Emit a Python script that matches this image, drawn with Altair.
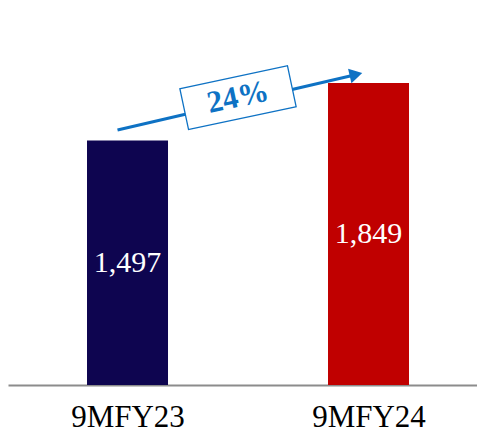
import altair as alt
import pandas as pd

categories = ["9MFY23", "9MFY24"]
values = [1497, 1849]
bar_colors = ["#0e0550", "#c00000"]
growth_label = "24%"

df = pd.DataFrame({
    "idx": list(range(len(categories))),
    "cat": categories,
    "value": values,
    "color": bar_colors,
})
df["mid"] = df["value"] / 2

arrow_df = pd.DataFrame({
    "x": [0], "y": [values[0]], "x2": [1], "y2": [values[1]],
    "xm": [0.5], "ym": [(values[0] + values[1]) / 2], "label": [growth_label],
})

FONT = "Liberation Serif"
BLUE = "#0e72c4"

xscale = alt.Scale(domain=[-0.4959, 1.4502], nice=False, zero=False, padding=0)
yscale = alt.Scale(domain=[0, 2308], nice=False, padding=0)

label_expr = " : ".join(
    [f"datum.value == {i} ? '{c}'" for i, c in enumerate(categories[:-1])]
) + f" : '{categories[-1]}'"

bars = alt.Chart(df).mark_bar(size=81).encode(
    x=alt.X("idx:Q", scale=xscale,
            axis=alt.Axis(values=list(range(len(categories))), labelExpr=label_expr,
                          title=None, grid=False, ticks=False, domainColor="#8c8c8c",
                          domainWidth=2, labelFont=FONT, labelFontSize=31,
                          labelColor="#000000", labelPadding=41,
                          labelBaseline="alphabetic")),
    y=alt.Y("value:Q", scale=yscale, axis=None),
    color=alt.Color("color:N", scale=None),
)

labels = alt.Chart(df).mark_text(font=FONT, fontSize=30, color="white",
                                 baseline="middle", align="center").encode(
    x=alt.X("idx:Q", scale=xscale),
    y=alt.Y("mid:Q", scale=yscale),
    text=alt.Text("value:Q", format=",.0f"),
)

arrow = alt.Chart(arrow_df).mark_rule(color=BLUE, strokeWidth=3,
                                      xOffset=-10, yOffset=-10.5,
                                      x2Offset=-14, y2Offset=-8).encode(
    x=alt.X("x:Q", scale=xscale), y=alt.Y("y:Q", scale=yscale),
    x2="x2:Q", y2="y2:Q",
)

head = alt.Chart(arrow_df).mark_point(shape="triangle-right", filled=True, color=BLUE,
                                      opacity=1, size=220, angle=346.8,
                                      xOffset=-12.5, yOffset=-8.5).encode(
    x=alt.X("x2:Q", scale=xscale), y=alt.Y("y2:Q", scale=yscale),
)

box = alt.Chart(arrow_df).mark_point(
    shape="M-1,-0.38L1,-0.38L1,0.38L-1,0.38Z", filled=False, fill="white",
    stroke=BLUE, strokeWidth=1.3, opacity=1, fillOpacity=1, size=12100, angle=348,
    xOffset=-10, yOffset=-14,
).encode(
    x=alt.X("xm:Q", scale=xscale), y=alt.Y("ym:Q", scale=yscale),
)

growth = alt.Chart(arrow_df).mark_text(font=FONT, fontSize=31, fontWeight="bold",
                                       color=BLUE, angle=348, align="center",
                                       baseline="middle", xOffset=-10, yOffset=-14).encode(
    x=alt.X("xm:Q", scale=xscale), y=alt.Y("ym:Q", scale=yscale),
    text="label:N",
)

chart = alt.layer(bars, labels, arrow, head, box, growth).properties(
    width=469, height=377,
    autosize=alt.AutoSizeParams(type="none"),
    padding={"left": 0, "top": 0, "right": 0, "bottom": 48},
).configure_view(stroke=None)

chart.save("out.html", embed_options={"renderer": "svg", "actions": False})
